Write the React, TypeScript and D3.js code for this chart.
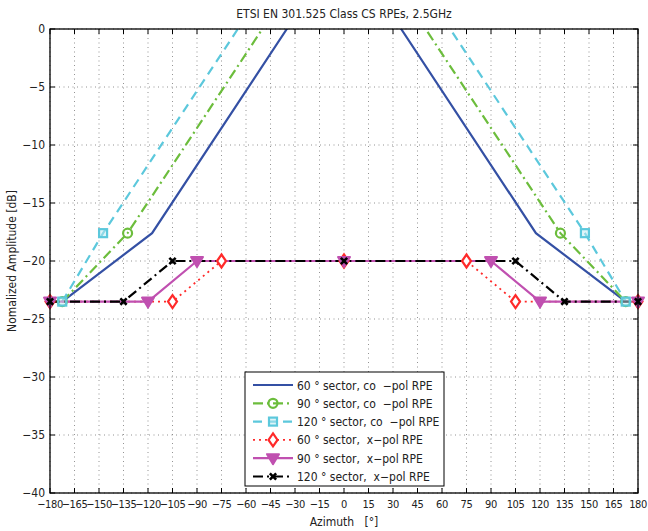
import React from "react";
import * as d3 from "d3";

const title = "ETSI EN 301.525 Class CS RPEs, 2.5GHz";
const xLabel = "Azimuth   [°]";
const yLabel = "Nomalized Amplitude [dB]";

const xTicks = [-180, -165, -150, -135, -120, -105, -90, -75, -60, -45, -30, -15, 0, 15, 30, 45, 60, 75, 90, 105, 120, 135, 150, 165, 180];
const yTicks = [-40, -35, -30, -25, -20, -15, -10, -5, 0];

// co-pol series (azimuth, dB)
const co60Az = [-172.5, -117.5, -35, -30, 30, 35, 117.5, 172.5];
const co60Db = [-23.5, -17.6, 0, 1.1, 1.1, 0, -17.6, -23.5];
const co90Az = [-172.5, -132.5, -50, -45, 45, 50, 132.5, 172.5];
const co90Db = [-23.5, -17.6, 0, 1.1, 1.1, 0, -17.6, -23.5];
const co120Az = [-172.5, -147.5, -65, -60, 60, 65, 147.5, 172.5];
const co120Db = [-23.5, -17.6, 0, 1.1, 1.1, 0, -17.6, -23.5];
// x-pol series
const x60Az = [-180, -105, -75, 0, 75, 105, 180];
const x60Db = [-23.5, -23.5, -20, -20, -20, -23.5, -23.5];
const x90Az = [-180, -120, -90, 0, 90, 120, 180];
const x90Db = [-23.5, -23.5, -20, -20, -20, -23.5, -23.5];
const x120Az = [-180, -135, -105, 0, 105, 135, 180];
const x120Db = [-23.5, -23.5, -20, -20, -20, -23.5, -23.5];

const legendLabels = [
  "60 ° sector, co  −pol RPE",
  "90 ° sector, co  −pol RPE",
  "120 ° sector, co  −pol RPE",
  "60 ° sector,  x−pol RPE",
  "90 ° sector,  x−pol RPE",
  "120 ° sector,  x−pol RPE",
];

type Marker = "none" | "circle" | "square" | "diamond" | "tri" | "x";
interface Series { az: number[]; db: number[]; color: string; dash: string; marker: Marker; width: number }

const series: Series[] = [
  { az: co60Az, db: co60Db, color: "#3450a4", dash: "", marker: "none", width: 2.2 },
  { az: co90Az, db: co90Db, color: "#6cbd3c", dash: "10,4,2,4", marker: "circle", width: 2.2 },
  { az: co120Az, db: co120Db, color: "#5cc8dc", dash: "9,6", marker: "square", width: 2.2 },
  { az: x60Az, db: x60Db, color: "#ff2a2a", dash: "2,4", marker: "diamond", width: 1.8 },
  { az: x90Az, db: x90Db, color: "#c050b0", dash: "", marker: "tri", width: 2.2 },
  { az: x120Az, db: x120Db, color: "#000000", dash: "10,4,2,4", marker: "x", width: 2.2 },
];

const L = 50, R = 638, T = 29, B = 493;
const FONT = "'Liberation Sans Narrow', 'DejaVu Sans Condensed', 'Liberation Sans', sans-serif";

function MarkerShape({ type, x, y, color }: { type: Marker; x: number; y: number; color: string }) {
  const s = 4.5;
  switch (type) {
    case "circle":
      return <circle cx={x} cy={y} r={4.5} fill="none" stroke={color} strokeWidth={2.2} />;
    case "square":
      return <rect x={x - 4} y={y - 4} width={8} height={8} fill="#bfeaf2" fillOpacity={0.5} stroke={color} strokeWidth={2.2} />;
    case "diamond":
      return <path d={`M${x},${y - 6.5}L${x + 4.5},${y}L${x},${y + 6.5}L${x - 4.5},${y}Z`} fill="#fff" stroke={color} strokeWidth={2.2} />;
    case "tri":
      return <path d={`M${x - 6},${y - 4}L${x + 6},${y - 4}L${x},${y + 6}Z`} fill={color} stroke={color} strokeWidth={2} strokeLinejoin="round" />;
    case "x":
      return <path d={`M${x - s * 0.7},${y - s * 0.7}L${x + s * 0.7},${y + s * 0.7}M${x - s * 0.7},${y + s * 0.7}L${x + s * 0.7},${y - s * 0.7}`} stroke={color} strokeWidth={2.6} />;
    default:
      return null;
  }
}

export default function App() {
  const x = d3.scaleLinear().domain([-180, 180]).range([L, R]);
  const y = d3.scaleLinear().domain([-40, 0]).range([B, T]);
  const line = d3.line<[number, number]>().x((d) => x(d[0])).y((d) => y(d[1]));

  const lgX = 245, lgY = 372, lgW = 199, lgH = 114;
  const rowY = (i: number) => 385 + i * 18.3;

  return (
    <svg width={648} height={531} style={{ position: "absolute", left: 0, top: 0, background: "#fff" }} fontFamily={FONT}>
      <defs>
        <clipPath id="plotclip">
          <rect x={L} y={T} width={R - L} height={B - T} />
        </clipPath>
      </defs>
      <rect x={0} y={0} width={648} height={531} fill="#fff" />
      {/* grid */}
      {xTicks.map((t) => (
        <line key={"gx" + t} x1={x(t)} x2={x(t)} y1={T} y2={B} stroke="#777" strokeWidth={0.8} strokeDasharray="1,3.5" />
      ))}
      {yTicks.map((t) => (
        <line key={"gy" + t} x1={L} x2={R} y1={y(t)} y2={y(t)} stroke="#777" strokeWidth={0.8} strokeDasharray="1,3.5" />
      ))}
      {/* ticks */}
      {xTicks.map((t) => (
        <g key={"tx" + t}>
          <line x1={x(t)} x2={x(t)} y1={B} y2={B - 5} stroke="#000" />
          <line x1={x(t)} x2={x(t)} y1={T} y2={T + 5} stroke="#000" />
          <text x={x(t)} y={508} fontSize={11} letterSpacing={-0.4} textAnchor="middle" fill="#222">{t < 0 ? "−" + Math.abs(t) : String(t)}</text>
        </g>
      ))}
      {yTicks.map((t) => (
        <g key={"ty" + t}>
          <line x1={L} x2={L + 5} y1={y(t)} y2={y(t)} stroke="#000" />
          <line x1={R} x2={R - 5} y1={y(t)} y2={y(t)} stroke="#000" />
          <text x={45} y={y(t) + 4} fontSize={12} textAnchor="end" fill="#222">{t < 0 ? "−" + Math.abs(t) : String(t)}</text>
        </g>
      ))}
      {/* series lines */}
      <g clipPath="url(#plotclip)">
        {series.map((s, i) => (
          <path key={"l" + i} d={line(s.az.map((a, j) => [a, s.db[j]] as [number, number])) || ""} fill="none" stroke={s.color} strokeWidth={s.width} strokeDasharray={s.dash || undefined} />
        ))}
      </g>
      {series.map((s, i) => (
        <g key={"m" + i}>
          {s.az.map((a, j) =>
            s.db[j] < 0 && s.db[j] >= -40 ? <MarkerShape key={j} type={s.marker} x={x(a)} y={y(s.db[j])} color={s.color} /> : null
          )}
        </g>
      ))}
      {/* frame */}
      <rect x={L} y={T} width={R - L} height={B - T} fill="none" stroke="#000" strokeWidth={1.3} />
      {/* legend */}
      <rect x={lgX} y={lgY} width={lgW} height={lgH} fill="#fff" stroke="#000" strokeWidth={1} />
      {series.map((s, i) => (
        <g key={"lg" + i}>
          <line x1={253} x2={293} y1={rowY(i)} y2={rowY(i)} stroke={s.color} strokeWidth={s.width} strokeDasharray={s.dash || undefined} />
          <MarkerShape type={s.marker} x={273} y={rowY(i)} color={s.color} />
          <text x={297} y={rowY(i) + 4.5} fontSize={12} fill="#222" style={{ whiteSpace: "pre" }}>{legendLabels[i]}</text>
        </g>
      ))}
      {/* titles */}
      <text x={(L + R) / 2} y={18} fontSize={12} textAnchor="middle" fill="#222">{title}</text>
      <text x={(L + R) / 2} y={526} fontSize={12} textAnchor="middle" fill="#222" style={{ whiteSpace: "pre" }}>{xLabel}</text>
      <text transform={`translate(16,${(T + B) / 2}) rotate(-90)`} fontSize={12} textAnchor="middle" fill="#222">{yLabel}</text>
    </svg>
  );
}
